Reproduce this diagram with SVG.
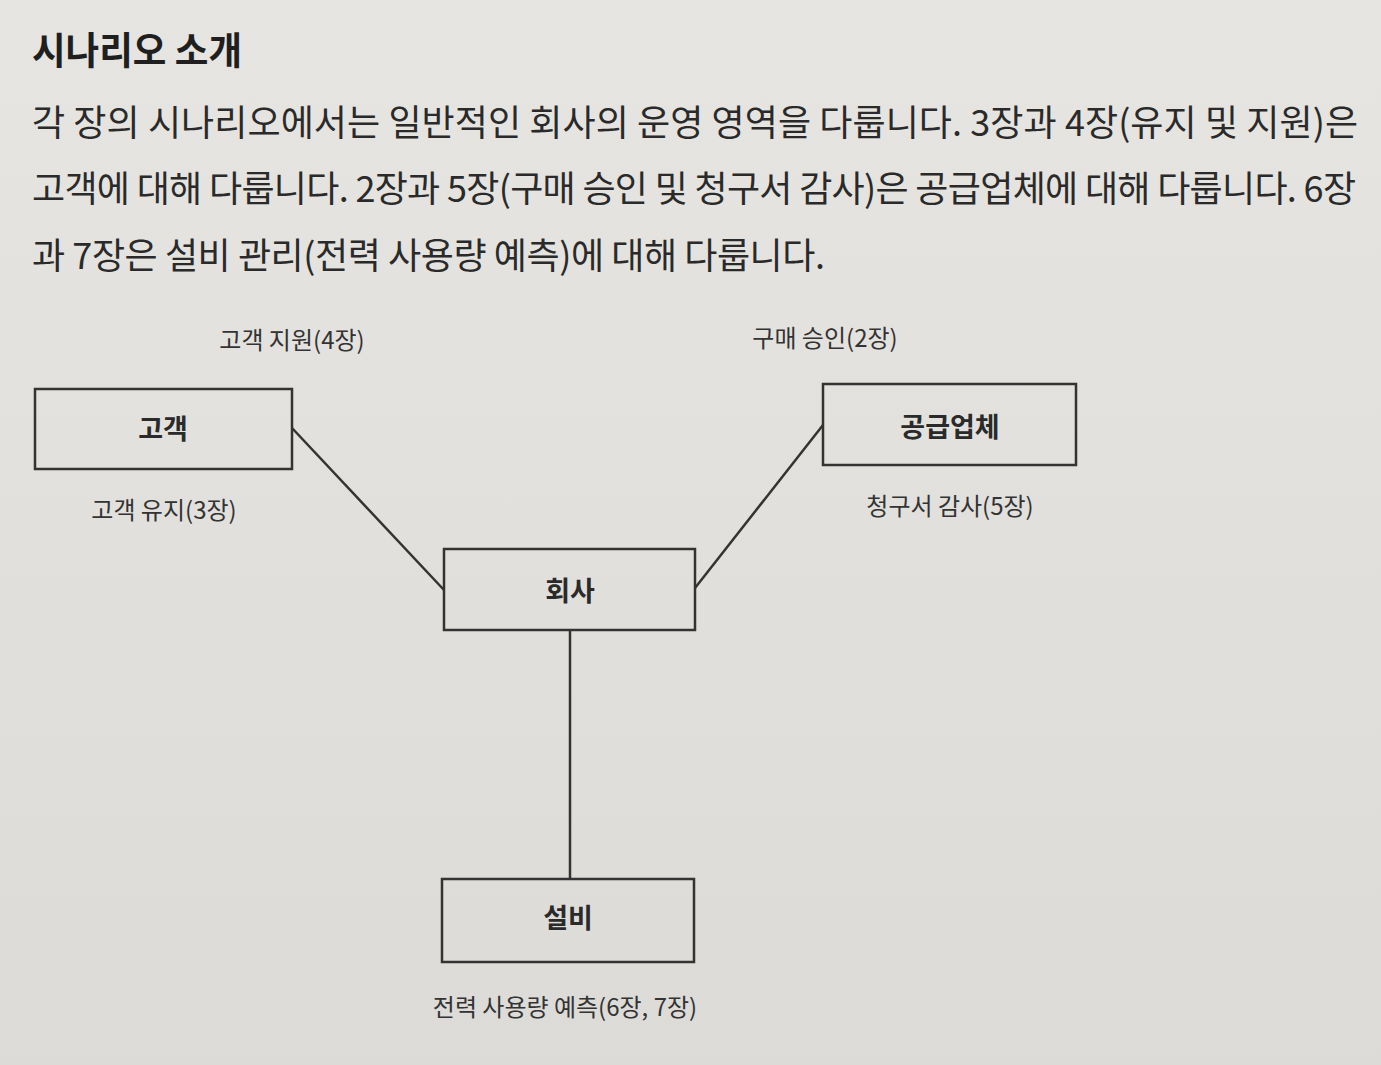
<svg xmlns="http://www.w3.org/2000/svg" width="1381" height="1065" viewBox="0 0 1381 1065">
<defs>
<linearGradient id="bg" x1="0" y1="0" x2="0" y2="1">
<stop offset="0" stop-color="#e6e5e1"/>
<stop offset="1" stop-color="#dcdbd8"/>
</linearGradient>
<style>
.h{font-family:"Noto Sans CJK KR","Noto Sans",sans-serif;font-weight:700;font-size:38px;fill:#1f1f1f}
.p{font-family:"Noto Sans CJK KR","Noto Sans",sans-serif;font-weight:400;font-size:36px;fill:#2a2a2a}
.box{fill:none;stroke:#333;stroke-width:2.5}
.nl{font-family:"Noto Sans CJK KR",sans-serif;font-weight:700;font-size:27px;fill:#2a2a2a;text-anchor:middle}
.el{font-family:"Noto Sans CJK KR",sans-serif;font-weight:400;font-size:24px;fill:#333;text-anchor:middle}
.ln{stroke:#333;stroke-width:2.5;fill:none}
</style>
</defs>
<rect width="1381" height="1065" fill="url(#bg)"/>
<text class="h" x="32" y="64" textLength="210" lengthAdjust="spacingAndGlyphs">시나리오 소개</text>
<text class="p" x="32" y="136" textLength="1326" lengthAdjust="spacing">각 장의 시나리오에서는 일반적인 회사의 운영 영역을 다룹니다. 3장과 4장(유지 및 지원)은</text>
<text class="p" x="32" y="202" textLength="1324" lengthAdjust="spacing">고객에 대해 다룹니다. 2장과 5장(구매 승인 및 청구서 감사)은 공급업체에 대해 다룹니다. 6장</text>
<text class="p" x="32" y="269" textLength="793" lengthAdjust="spacing">과 7장은 설비 관리(전력 사용량 예측)에 대해 다룹니다.</text>
<g id="connectors">
<line class="ln" x1="292" y1="428" x2="444" y2="590"/>
<line class="ln" x1="823" y1="425" x2="695" y2="588"/>
<line class="ln" x1="570" y1="630" x2="570" y2="878"/>
</g>
<g id="node-customer">
<rect class="box" x="35" y="389" width="257" height="80"/>
<text class="nl" x="163" y="439">고객</text>
</g>
<g id="node-supplier">
<rect class="box" x="823" y="384" width="253" height="81"/>
<text class="nl" x="950" y="437">공급업체</text>
</g>
<g id="node-company">
<rect class="box" x="444" y="549" width="251" height="81"/>
<text class="nl" x="570" y="601">회사</text>
</g>
<g id="node-facility">
<rect class="box" x="442" y="879" width="252" height="83"/>
<text class="nl" x="568" y="928">설비</text>
</g>
<g id="edge-labels">
<text class="el" x="292" y="349">고객 지원(4장)</text>
<text class="el" x="164" y="519">고객 유지(3장)</text>
<text class="el" x="825" y="347">구매 승인(2장)</text>
<text class="el" x="950" y="515">청구서 감사(5장)</text>
<text class="el" x="565" y="1016">전력 사용량 예측(6장, 7장)</text>
</g>
</svg>
